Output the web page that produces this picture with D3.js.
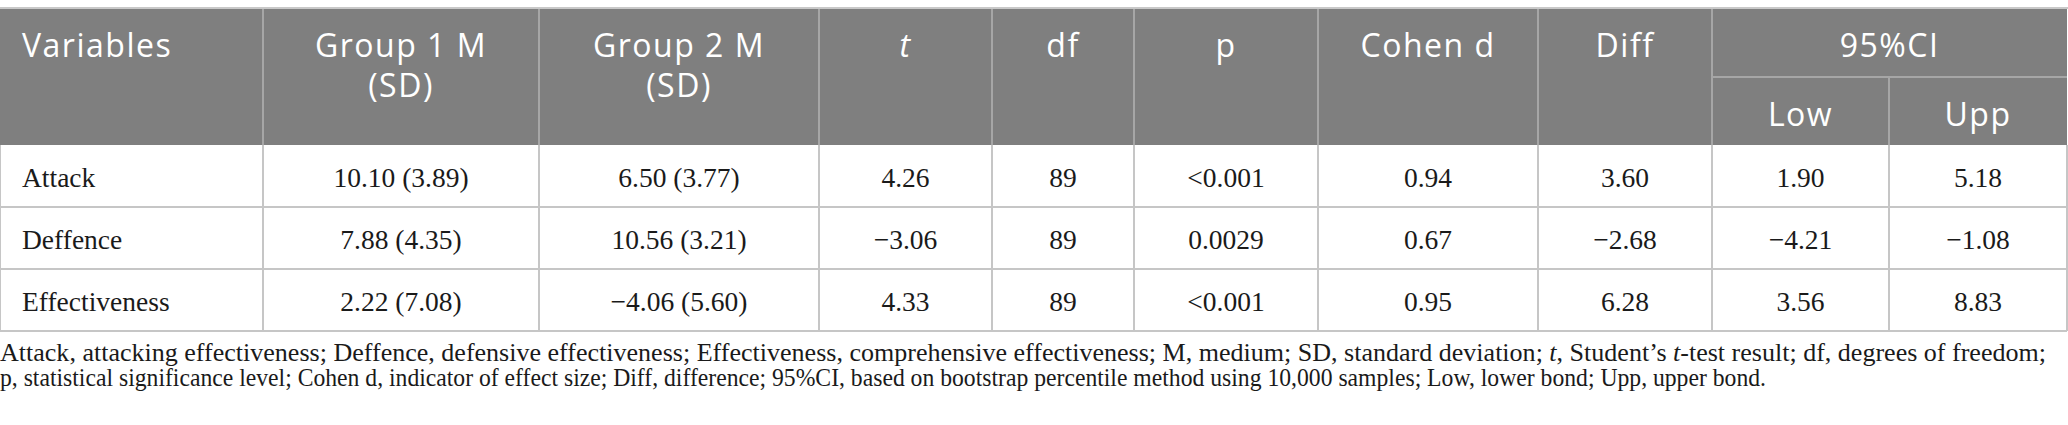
<!DOCTYPE html>
<html>
<head>
<meta charset="utf-8">
<script src="https://cdn.jsdelivr.net/npm/d3@7"></script>
<style>
  html, body { margin: 0; padding: 0; background: #fff; }
  svg { display: block; }
</style>
</head>
<body>
<div id="table"></div>
<script>
// table values
const variables = ['Attack', 'Deffence', 'Effectiveness'];
const group1 = ['10.10 (3.89)', '7.88 (4.35)', '2.22 (7.08)'];
const group2 = ['6.50 (3.77)', '10.56 (3.21)', '\u22124.06 (5.60)'];
const tValues = ['4.26', '\u22123.06', '4.33'];
const dfValues = ['89', '89', '89'];
const pValues = ['<0.001', '0.0029', '<0.001'];
const cohenD = ['0.94', '0.67', '0.95'];
const diffValues = ['3.60', '\u22122.68', '6.28'];
const ciLow = ['1.90', '\u22124.21', '3.56'];
const ciUpp = ['5.18', '\u22121.08', '8.83'];

const headers = [
  { key: 'var', lines: ['Variables'], align: 'left' },
  { key: 'g1', lines: ['Group 1 M', '(SD)'] },
  { key: 'g2', lines: ['Group 2 M', '(SD)'] },
  { key: 't', lines: ['t'], italic: true },
  { key: 'df', lines: ['df'] },
  { key: 'p', lines: ['p'] },
  { key: 'd', lines: ['Cohen d'] },
  { key: 'diff', lines: ['Diff'] },
];
const ciHeader = '95%CI';
const ciSub = ['Low', 'Upp'];

const footLines = [
  [['Attack, attacking effectiveness; Deffence, defensive effectiveness; Effectiveness, comprehensive effectiveness; M, medium; SD, standard deviation; ', false],
   ['t', true], [', Student\u2019s ', false], ['t', true], ['-test result; df, degrees of freedom;', false]],
  [['p, statistical significance level; Cohen d, indicator of effect size; Diff, difference; 95%CI, based on bootstrap percentile method using 10,000 samples; Low, lower bond; Upp, upper bond.', false]],
];

const width = 2068, height = 425;
const colKeys = ['var', 'g1', 'g2', 't', 'df', 'p', 'd', 'diff', 'low', 'upp'];
const colEdges = [0, 263, 539, 819, 992, 1134, 1318, 1538, 1712, 1889, 2067];
const headTop = 9, headBottom = 145, ciSplit = 77, tableBottom = 331;
const footWidths = [2046, 1766];

const xLeft = d3.scaleOrdinal().domain(colKeys).range(colEdges.slice(0, -1));
const xRight = d3.scaleOrdinal().domain(colKeys).range(colEdges.slice(1));
const xMid = k => (xLeft(k) + xRight(k)) / 2;
const y = d3.scaleBand().domain(variables).range([headBottom, tableBottom]);

const svg = d3.select('#table').append('svg')
  .attr('width', width)
  .attr('height', height);

const headFont = "'Open Sans', sans-serif";
const bodyFont = "'Liberation Serif', 'Times New Roman', serif";

// header background
svg.append('rect')
  .attr('x', 0).attr('y', headTop)
  .attr('width', colEdges[colEdges.length - 1]).attr('height', headBottom - headTop)
  .attr('fill', '#7f7f7f');

// top rule
svg.append('line')
  .attr('x1', 0).attr('x2', width)
  .attr('y1', 8).attr('y2', 8)
  .attr('stroke', '#c8c8c8').attr('stroke-width', 2);

// header separators
const headSep = svg.append('g').attr('stroke', '#a6a6a6').attr('stroke-width', 2);
colEdges.slice(1, -1).forEach((x, i) => {
  const key = colKeys[i + 1];
  headSep.append('line')
    .attr('x1', x).attr('x2', x)
    .attr('y1', key === 'upp' ? ciSplit : headTop).attr('y2', headBottom);
});
headSep.append('line')
  .attr('x1', xLeft('low')).attr('x2', xRight('upp'))
  .attr('y1', ciSplit).attr('y2', ciSplit);

// header text
const headText = svg.append('g')
  .attr('font-family', headFont)
  .attr('font-size', 32)
  .attr('letter-spacing', '1.5px')
  .attr('fill', '#fff');

headers.forEach(h => {
  const hx = h.align === 'left' ? xLeft(h.key) + 22 : xMid(h.key);
  const t = headText.append('text')
    .attr('text-anchor', h.align === 'left' ? 'start' : 'middle')
    .attr('font-style', h.italic ? 'italic' : null);
  h.lines.forEach((l, i) => {
    t.append('tspan')
      .attr('x', hx)
      .attr('y', 57 + i * 40)
      .text(l);
  });
});
headText.append('text')
  .attr('text-anchor', 'middle')
  .attr('x', (xLeft('low') + xRight('upp')) / 2)
  .attr('y', 57)
  .text(ciHeader);
ciSub.forEach((s, i) => {
  const k = i === 0 ? 'low' : 'upp';
  headText.append('text')
    .attr('text-anchor', 'middle')
    .attr('x', xMid(k))
    .attr('y', 126)
    .text(s);
});

// body grid
const grid = svg.append('g').attr('stroke', '#c6c6c6').attr('stroke-width', 2);
variables.forEach(v => {
  grid.append('line')
    .attr('x1', 0).attr('x2', colEdges[colEdges.length - 1])
    .attr('y1', y(v) + y.bandwidth()).attr('y2', y(v) + y.bandwidth());
});
colEdges.forEach(x => {
  grid.append('line')
    .attr('x1', x).attr('x2', x)
    .attr('y1', headBottom).attr('y2', tableBottom);
});

// body cells
const columns = {
  var: variables, g1: group1, g2: group2, t: tValues, df: dfValues,
  p: pValues, d: cohenD, diff: diffValues, low: ciLow, upp: ciUpp,
};
const body = svg.append('g')
  .attr('font-family', bodyFont)
  .attr('font-size', 27.5)
  .attr('fill', '#1a1a1a');

colKeys.forEach(k => {
  body.selectAll(null)
    .data(columns[k])
    .enter().append('text')
    .attr('x', k === 'var' ? xLeft(k) + 22 : xMid(k))
    .attr('y', (d, i) => y(variables[i]) + 42)
    .attr('text-anchor', k === 'var' ? 'start' : 'middle')
    .text(d => d);
});

// footnote, squeezed to the condensed widths of the original lines
const foot = svg.append('g')
  .attr('font-family', bodyFont)
  .attr('font-size', 25)
  .attr('fill', '#1a1a1a');

footLines.forEach((parts, i) => {
  const t = foot.append('text')
    .attr('x', 0)
    .attr('y', 361 + i * 25)
    .attr('textLength', footWidths[i])
    .attr('lengthAdjust', 'spacingAndGlyphs');
  parts.forEach(([s, it]) => {
    t.append('tspan').attr('font-style', it ? 'italic' : null).text(s);
  });
});
</script>
</body>
</html>
